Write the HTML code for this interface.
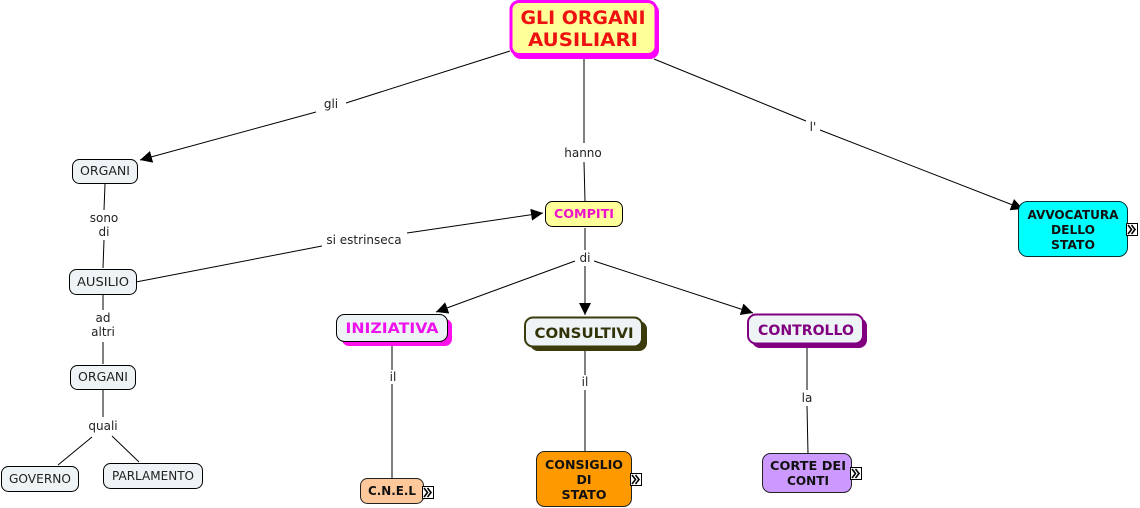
<!DOCTYPE html>
<html><head><meta charset="utf-8"><style>
html,body{margin:0;padding:0;background:#fff;width:1140px;height:508px;overflow:hidden}
svg{display:block}
text{font-family:"DejaVu Sans","Liberation Sans",sans-serif;text-anchor:middle}
.l{font-size:12px;fill:#222}
.n{font-size:12.5px;fill:#222}
.b{font-size:12.5px;font-weight:bold;fill:#111}
line{stroke:#000;stroke-width:1}
</style></head><body>
<svg width="1140" height="508" viewBox="0 0 1140 508" xmlns="http://www.w3.org/2000/svg">
<defs>
<marker id="a" markerUnits="userSpaceOnUse" markerWidth="14" markerHeight="14" refX="12" refY="6" orient="auto"><path d="M0,0L12,6L0,12Z" fill="#000"/></marker>
<g id="ic"><rect x=".5" y=".5" width="11" height="12" fill="#fff" stroke="#000"/><path d="M2,2L5.500,6.500L2,11M5.500,2L9,6.500L5.500,11" fill="none" stroke="#000" stroke-width="1.600"/></g>
</defs>

<line x1="510" y1="51" x2="346" y2="103"/><line x1="316" y1="112" x2="140" y2="160" marker-end="url(#a)"/>
<line x1="584" y1="59" x2="584" y2="143"/><line x1="584" y1="162" x2="585" y2="201"/>
<line x1="654" y1="59" x2="806" y2="121"/><line x1="820" y1="130" x2="1023" y2="209" marker-end="url(#a)"/>
<line x1="105" y1="184" x2="104" y2="210"/><line x1="104" y1="240" x2="103" y2="268"/>
<line x1="136" y1="282" x2="322" y2="246"/><line x1="407" y1="233" x2="543" y2="213" marker-end="url(#a)"/>
<line x1="103" y1="295" x2="103" y2="310"/><line x1="103" y1="342" x2="103" y2="364"/>
<line x1="103" y1="390" x2="103" y2="417"/><line x1="92" y1="437" x2="58" y2="465"/><line x1="112" y1="436" x2="139" y2="462"/>
<line x1="585" y1="228" x2="585" y2="250"/><line x1="585" y1="266" x2="585" y2="315" marker-end="url(#a)"/>
<line x1="575" y1="261" x2="436" y2="312" marker-end="url(#a)"/><line x1="594" y1="261" x2="753" y2="313" marker-end="url(#a)"/>
<line x1="392" y1="345" x2="392" y2="370"/><line x1="392" y1="384" x2="392" y2="479"/>
<line x1="585" y1="349" x2="585" y2="375"/><line x1="585" y1="390" x2="585" y2="452"/>
<line x1="807" y1="346" x2="807" y2="390"/><line x1="807" y1="406" x2="808" y2="454"/>

<text class="l" x="331" y="108">gli</text>
<text class="l" x="583" y="157">hanno</text>
<text class="l" x="813" y="131">l'</text>
<text class="l" x="104" y="222">sono</text><text class="l" x="104" y="236">di</text>
<text class="l" x="364" y="244">si estrinseca</text>
<text class="l" x="103" y="322">ad</text><text class="l" x="103" y="336">altri</text>
<text class="l" x="103" y="430">quali</text>
<text class="l" x="585" y="262">di</text>
<text class="l" x="393" y="381">il</text>
<text class="l" x="585" y="386">il</text>
<text class="l" x="807" y="402">la</text>

<!-- main -->
<rect x="512" y="3" width="147" height="56" rx="9" fill="#ff00ff"/>
<rect x="511" y="1.500" width="145" height="53" rx="8" fill="#ffff99" stroke="#ff00ff" stroke-width="3"/>
<text x="583" y="24" font-size="19" font-weight="bold" fill="#ee1111" textLength="125" lengthAdjust="spacingAndGlyphs">GLI ORGANI</text>
<text x="583" y="46" font-size="19" font-weight="bold" fill="#ee1111" textLength="110" lengthAdjust="spacingAndGlyphs">AUSILIARI</text>

<!-- small concept nodes -->
<rect x="72.500" y="159.500" width="65" height="24" rx="7" fill="#eef3f6" stroke="#000"/>
<text class="n" x="105" y="175" textLength="50" lengthAdjust="spacingAndGlyphs">ORGANI</text>
<rect x="69.500" y="269.500" width="67" height="25" rx="7" fill="#eef3f6" stroke="#000"/>
<text class="n" x="103" y="286" textLength="52" lengthAdjust="spacingAndGlyphs">AUSILIO</text>
<rect x="70.500" y="365.500" width="65" height="24" rx="7" fill="#eef3f6" stroke="#000"/>
<text class="n" x="103" y="381" textLength="50" lengthAdjust="spacingAndGlyphs">ORGANI</text>
<rect x="1.500" y="466.500" width="77" height="25" rx="7" fill="#eef3f6" stroke="#000"/>
<text class="n" x="40" y="483" textLength="62" lengthAdjust="spacingAndGlyphs">GOVERNO</text>
<rect x="103.500" y="463.500" width="99" height="25" rx="7" fill="#eef3f6" stroke="#000"/>
<text class="n" x="153" y="480" textLength="82" lengthAdjust="spacingAndGlyphs">PARLAMENTO</text>

<!-- compiti -->
<rect x="545.500" y="201.500" width="77" height="25" rx="7" fill="#ffff99" stroke="#000"/>
<text x="584" y="218" font-size="12.500" font-weight="bold" fill="#ee11cc" textLength="60" lengthAdjust="spacingAndGlyphs">COMPITI</text>

<!-- iniziativa -->
<rect x="342" y="319" width="110" height="27" rx="7" fill="#ff11ee"/>
<rect x="336.500" y="314.500" width="111" height="27" rx="8" fill="#eef3f6" stroke="#000"/>
<text x="392" y="333" font-size="14.500" font-weight="bold" fill="#ee11ee" textLength="93" lengthAdjust="spacingAndGlyphs">INIZIATIVA</text>

<!-- consultivi -->
<rect x="530" y="321" width="117" height="30" rx="8" fill="#3b3b0c"/>
<rect x="525" y="317.500" width="117" height="29" rx="8" fill="#eef3f6" stroke="#3b3b0c" stroke-width="2"/>
<text x="584" y="338" font-size="14.500" font-weight="bold" fill="#33330a" textLength="99" lengthAdjust="spacingAndGlyphs">CONSULTIVI</text>

<!-- controllo -->
<rect x="752" y="318" width="115" height="30" rx="8" fill="#800080"/>
<rect x="748" y="314.500" width="115" height="29" rx="8" fill="#eef3f6" stroke="#800080" stroke-width="2"/>
<text x="806" y="335" font-size="14.500" font-weight="bold" fill="#800080" textLength="96" lengthAdjust="spacingAndGlyphs">CONTROLLO</text>

<!-- leaves -->
<rect x="360.500" y="478.500" width="63" height="25" rx="7" fill="#ffc89a" stroke="#222"/>
<text class="b" x="392" y="495" textLength="48" lengthAdjust="spacingAndGlyphs">C.N.E.L</text>
<use href="#ic" x="422" y="486"/>

<rect x="536.500" y="451.500" width="95" height="55" rx="8" fill="#ff9900" stroke="#222"/>
<text class="b" x="584" y="469" textLength="78" lengthAdjust="spacingAndGlyphs">CONSIGLIO</text>
<text class="b" x="584" y="484" textLength="15" lengthAdjust="spacingAndGlyphs">DI</text>
<text class="b" x="584" y="499" textLength="45" lengthAdjust="spacingAndGlyphs">STATO</text>
<use href="#ic" x="630" y="473"/>

<rect x="762.500" y="453.500" width="89" height="39" rx="8" fill="#cc99ff" stroke="#222"/>
<text class="b" x="808" y="470" textLength="76" lengthAdjust="spacingAndGlyphs">CORTE DEI</text>
<text class="b" x="808" y="485" textLength="42" lengthAdjust="spacingAndGlyphs">CONTI</text>
<use href="#ic" x="850" y="467"/>

<rect x="1018.500" y="201.500" width="109" height="55" rx="9" fill="#00ffff" stroke="#003333"/>
<text class="b" x="1073" y="219" textLength="91" lengthAdjust="spacingAndGlyphs">AVVOCATURA</text>
<text class="b" x="1073" y="234" textLength="44" lengthAdjust="spacingAndGlyphs">DELLO</text>
<text class="b" x="1073" y="249" textLength="44" lengthAdjust="spacingAndGlyphs">STATO</text>
<use href="#ic" x="1126" y="223"/>
</svg>
</body></html>
